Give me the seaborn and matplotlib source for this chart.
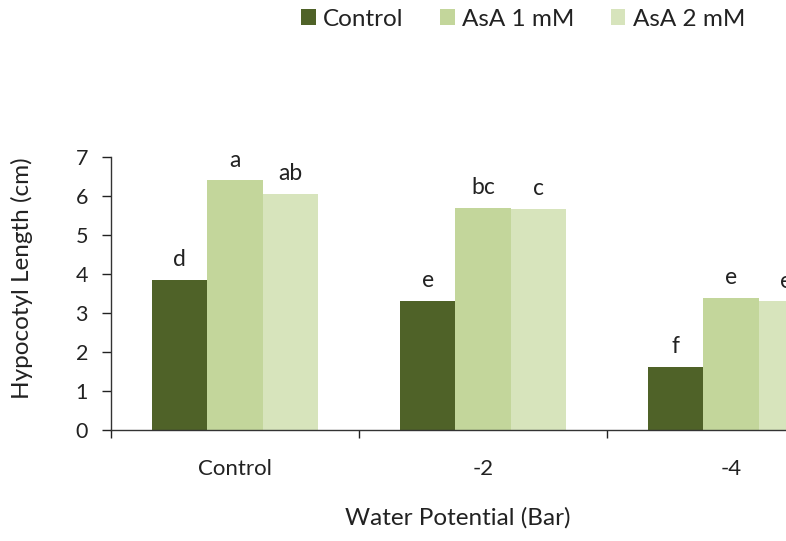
import pandas as pd
import numpy as np
import seaborn as sns
import matplotlib.pyplot as plt
from matplotlib.ticker import FixedLocator

# data
potentials = ["Control", "-2", "-4"]
treatments = ["Control", "AsA 1 mM", "AsA 2 mM"]
control_vals = [3.85, 3.32, 1.62]
asa1_vals = [6.40, 5.70, 3.39]
asa2_vals = [6.05, 5.67, 3.30]
letters = {
    "Control": ["d", "e", "f"],
    "AsA 1 mM": ["a", "bc", "e"],
    "AsA 2 mM": ["ab", "c", "e"],
}
colors = ["#4F6228", "#C3D69B", "#D7E4BC"]

rows = []
for t, vals in zip(treatments, [control_vals, asa1_vals, asa2_vals]):
    for p, v in zip(potentials, vals):
        rows.append({"potential": p, "treatment": t, "length": v})
df = pd.DataFrame(rows)

sns.set_style("white")
plt.rcParams["font.family"] = ["Lato", "DejaVu Sans"]

txt = "#222222"
fig = plt.figure(figsize=(7.86, 5.41), dpi=100)
# axes run past the right edge, as in the cropped original
ax = fig.add_axes([111 / 786, 111 / 541, 744 / 786, 273 / 541])

sns.barplot(data=df, x="potential", y="length", hue="treatment",
            order=potentials, hue_order=treatments, palette=colors,
            width=0.667, gap=0, saturation=1, linewidth=0, ax=ax,
            legend=True)

for cont, t in zip(ax.containers, treatments):
    ax.bar_label(cont, labels=letters[t], padding=7, fontsize=16.5, color=txt)

ax.set_xlim(-0.5, 2.5)
ax.set_ylim(0, 7)
ax.set_yticks(range(0, 8))
ax.tick_params(axis="y", labelsize=15.5, length=6.5, width=1, direction="out",
               left=True, colors=txt, pad=10)
ax.tick_params(axis="x", which="major", length=0, labelsize=16, pad=21,
               colors=txt)
ax.xaxis.set_minor_locator(FixedLocator([-0.5, 0.5, 1.5, 2.5]))
ax.tick_params(axis="x", which="minor", length=6, width=1, bottom=True,
               direction="out", color=txt)

for s in ["top", "right"]:
    ax.spines[s].set_visible(False)
for s in ["left", "bottom"]:
    ax.spines[s].set_color("#333333")
    ax.spines[s].set_linewidth(1)

ax.set_xlabel("Water Potential (Bar)", fontsize=17.5, color=txt)
ax.set_ylabel("Hypocotyl Length (cm)", fontsize=17.5, color=txt)
ax.xaxis.set_label_coords((458 - 111) / 744, (430 - 507) / 273)
ax.yaxis.set_label_coords((33 - 111) / 744, (430 - 278) / 273)

handles, labels = ax.get_legend_handles_labels()
ax.get_legend().remove()
fig.legend(handles, labels, loc="center", bbox_to_anchor=(523 / 786, 1 - 19 / 541),
           ncol=3, frameon=False, fontsize=17.5, handlelength=0.6, handleheight=0.6,
           handletextpad=0.3, columnspacing=1.5, labelcolor=txt)

fig.savefig("out.png", dpi=100)
